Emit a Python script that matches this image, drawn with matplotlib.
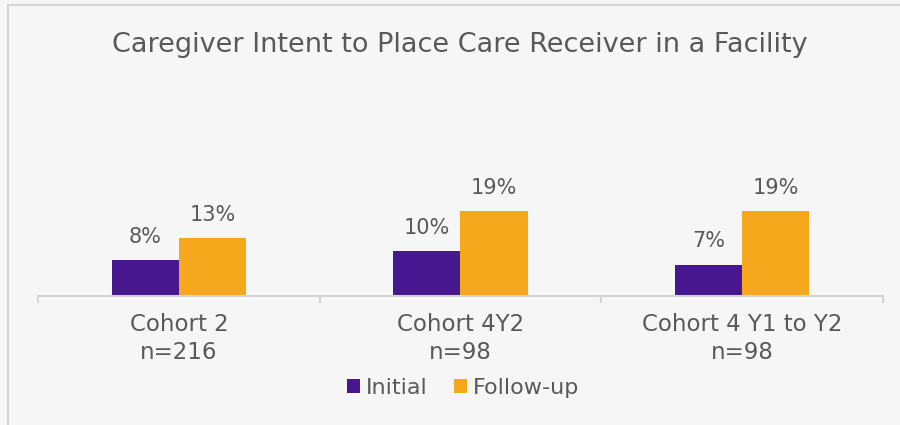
import matplotlib.pyplot as plt
from matplotlib.patches import Rectangle
import numpy as np

categories = ["Cohort 2\nn=216", "Cohort 4Y2\nn=98", "Cohort 4 Y1 to Y2\nn=98"]
initial = [8, 10, 7]
follow_up = [13, 19, 19]

purple = "#46178f"
orange = "#f5a81c"
text_grey = "#595959"
bg = "#f6f6f6"

plt.rcParams['font.family'] = ['DejaVu Sans']

fig = plt.figure(figsize=(9, 4.25), dpi=100, facecolor=bg)
# thin frame around the chart area
fig.patches.append(Rectangle((8 / 900, -0.05), 1.1, 1 - 5 / 425 + 0.05,
                             transform=fig.transFigure, fill=False,
                             edgecolor="#d4d4d4", linewidth=1.5))

ax = fig.add_axes([38 / 900, 1 - 296 / 425, 845 / 900, 196 / 425])
ax.set_facecolor(bg)

x = np.arange(len(categories))
w = 0.238
b1 = ax.bar(x - w / 2, initial, w, color=purple, label="Initial")
b2 = ax.bar(x + w / 2, follow_up, w, color=orange, label="Follow-up")

for bars, vals in ((b1, initial), (b2, follow_up)):
    for r, v in zip(bars, vals):
        ax.text(r.get_x() + r.get_width() / 2, v + 3.0, f"{v}%",
                ha="center", va="bottom", fontsize=15, color=text_grey)

ax.set_xlim(-0.5, len(categories) - 0.5)
ax.set_ylim(0, 44)
ax.set_yticks([])
for s in ("top", "right", "left"):
    ax.spines[s].set_visible(False)
ax.spines["bottom"].set_color("#d4d4d4")
ax.spines["bottom"].set_linewidth(1.5)

# boundary ticks between categories, labels centred without ticks
ax.set_xticks(np.arange(len(categories) + 1) - 0.5)
ax.set_xticklabels([])
ax.tick_params(axis="x", length=5, width=1.5, color="#d4d4d4")
ax.set_xticks(x, minor=True)
ax.set_xticklabels(categories, minor=True, fontsize=16.5, color=text_grey,
                   linespacing=1.3)
ax.tick_params(axis="x", which="minor", length=0, pad=12)

fig.text(460 / 900, 1 - 45 / 425, "Caregiver Intent to Place Care Receiver in a Facility",
         ha="center", va="center", fontsize=19.5, color=text_grey)

fig.legend(handles=[b1, b2], loc="center", bbox_to_anchor=(463 / 900, 1 - 388 / 425),
           ncol=2, frameon=False, fontsize=16, labelcolor=text_grey,
           handlelength=0.6, handleheight=0.6, handletextpad=0.25,
           columnspacing=1.2)

fig.savefig("out.png", dpi=100, facecolor=bg)
